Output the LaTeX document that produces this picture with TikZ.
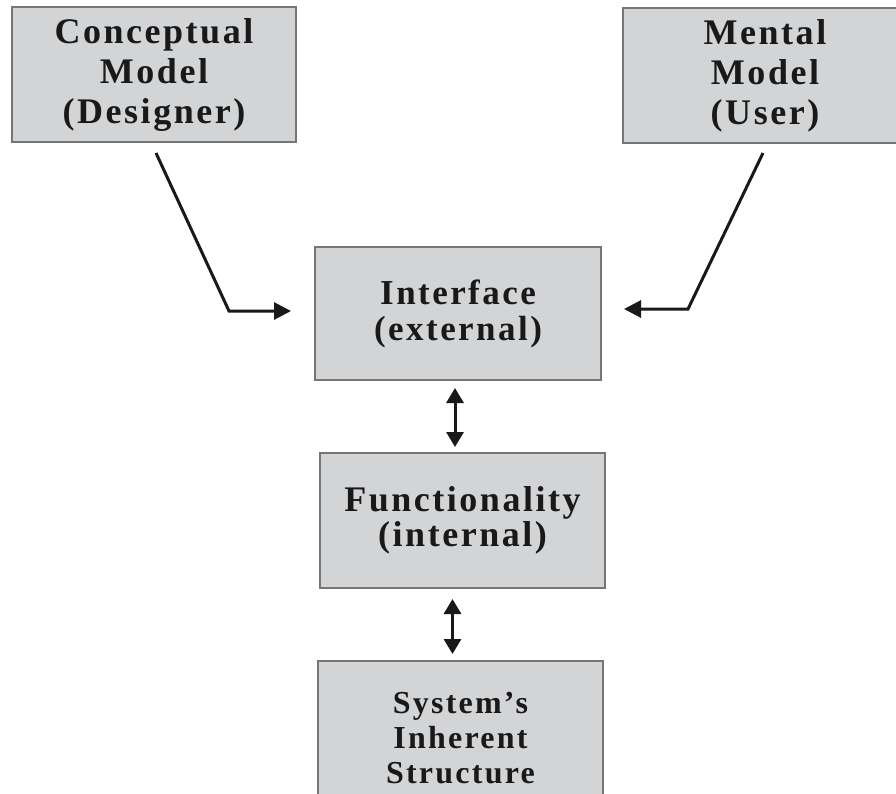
\documentclass[tikz,border=0pt]{standalone}
\usepackage{fontspec}
\setmainfont{Liberation Serif}[LetterSpace=7]
\usetikzlibrary{arrows.meta}
\definecolor{boxfill}{RGB}{211,212,214}
\definecolor{boxline}{RGB}{118,118,118}
\definecolor{ink}{RGB}{25,25,25}
\begin{document}
\begin{tikzpicture}[x=1pt,y=-1pt,
  box/.style={draw=boxline, fill=boxfill, line width=2pt, align=center, inner sep=0pt,
    text=ink, font=\fontsize{36}{40}\selectfont\bfseries},
  arr/.style={draw=ink, line width=3pt, -{Triangle[length=17pt,width=17pt]}},
  darr/.style={draw=ink, line width=3pt, {Triangle[length=15pt,width=17pt]}-{Triangle[length=15pt,width=17pt]}}]
\useasboundingbox (0,0) rectangle (896,793);
\fill[white] (0,0) rectangle (896,793);

\node[box, minimum width=284pt, minimum height=135pt] (cm) at (154,74.5) {Conceptual\\Model\\(Designer)};
\node[box, minimum width=284pt, minimum height=135pt] (mm) at (765,75.5) {Mental\\Model\\(User)};
\node[box, minimum width=286pt, minimum height=133pt, font=\fontsize{35}{36}\selectfont\bfseries] (if) at (458,313.5) {Interface\\(external)};
\node[box, minimum width=285pt, minimum height=135pt, font=\fontsize{36}{35}\selectfont\bfseries] (fn) at (462.5,520.5) {Functionality\\(internal)};
\node[box, minimum width=285pt, minimum height=154pt, font=\fontsize{32}{35}\selectfont\bfseries] (sy) at (460.5,738) {System’s\\Inherent\\Structure};

\coordinate (s1) at (156,153);
\coordinate (k1) at (229,311);
\coordinate (s2) at (763,153);
\coordinate (k2) at (688,309);

\draw[arr, shorten >=23pt] (s1) -- (k1) -- (k1 -| if.west);
\draw[arr, shorten >=22pt] (s2) -- (k2) -- (k2 -| if.east);

\draw[darr, shorten <=7pt, shorten >=5pt] ([xshift=-3pt]if.south) -- ([xshift=-3pt]if.south |- fn.north);
\draw[darr, shorten <=10pt, shorten >=6pt] ([xshift=-10pt]fn.south) -- ([xshift=-10pt]fn.south |- sy.north);
\end{tikzpicture}
\end{document}
